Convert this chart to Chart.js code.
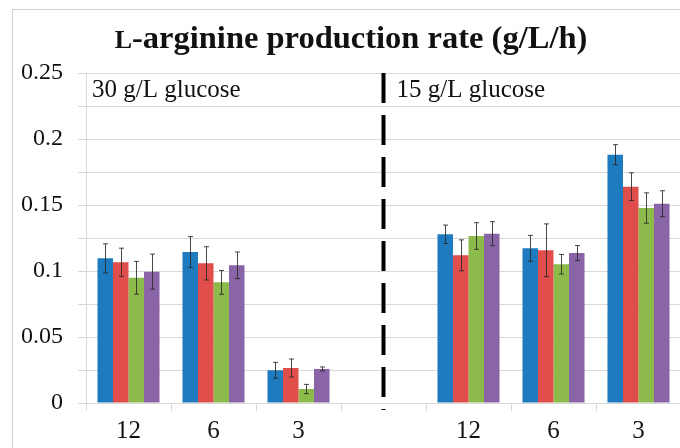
<!DOCTYPE html>
<html>
<head>
<meta charset="utf-8">
<script src="https://cdn.jsdelivr.net/npm/chart.js@4.4.1/dist/chart.umd.min.js"></script>
<style>
    html, body { margin: 0; padding: 0; background: #fff; overflow: hidden; width: 680px; height: 448px; }
    #frame { position: absolute; left: 12px; top: 9px; width: 700px; height: 470px; border-left: 1px solid #d0d0d0; border-top: 1px solid #d0d0d0; }
    #title { position: absolute; left: 0; top: 19px; width: 702px; text-align: center; font-family: "Liberation Serif", serif; font-weight: bold; font-size: 32.5px; color: #111; }
    #wrap { position: absolute; left: 0; top: 0; width: 690px; height: 460px; }
</style>
</head>
<body>
<div id="frame"></div>
<div id="wrap"><canvas id="c"></canvas></div>
<div id="title"><span style="font-size:0.8em">L</span>-arginine production rate (g/L/h)</div>
<script>
// data; index 3 is the spacer between the two glucose levels
const categories = ['12', '6', '3', '', '12', '6', '3'];
const seriesA = [0.1096, 0.1144, 0.0248, null, 0.1278, 0.1172, 0.1881];
const seriesB = [0.1066, 0.1058, 0.0265, null, 0.1119, 0.1157, 0.1639];
const seriesC = [0.0949, 0.0914, 0.0106, null, 0.1265, 0.1051, 0.1477];
const seriesD = [0.0995, 0.1043, 0.0258, null, 0.1283, 0.1136, 0.1510];
const errA = [0.0110, 0.0117, 0.0060, null, 0.0070, 0.0098, 0.0076];
const errB = [0.0107, 0.0126, 0.0068, null, 0.0117, 0.0200, 0.0105];
const errC = [0.0124, 0.0090, 0.0035, null, 0.0101, 0.0074, 0.0115];
const errD = [0.0133, 0.0101, 0.0015, null, 0.0091, 0.0057, 0.0098];
const groupLabels = ['30 g/L glucose', '15 g/L glucose'];

const colors = ['#1f7bbf', '#e04e4c', '#8cba4b', '#8964a7'];
const serif = '"Liberation Serif", "DejaVu Serif", serif';

const errorBars = {
    id: 'errorBars',
    afterDatasetsDraw(chart) {
        const ctx = chart.ctx, y = chart.scales.y;
        ctx.save();
        ctx.strokeStyle = 'rgba(40,40,40,.85)';
        ctx.lineWidth = 1;
        chart.data.datasets.forEach((ds, i) => {
            chart.getDatasetMeta(i).data.forEach((bar, j) => {
                const v = ds.data[j], e = ds.err[j];
                if (v == null || e == null) return;
                const x = Math.round(bar.x) + .5;
                const y1 = y.getPixelForValue(v + e), y2 = y.getPixelForValue(v - e);
                ctx.beginPath();
                ctx.moveTo(x, y1); ctx.lineTo(x, y2);
                ctx.moveTo(x - 2.5, y1); ctx.lineTo(x + 2.5, y1);
                ctx.moveTo(x - 2.5, y2); ctx.lineTo(x + 2.5, y2);
                ctx.stroke();
            });
        });
        ctx.restore();
    }
};

const divider = {
    id: 'divider',
    afterDraw(chart) {
        const ctx = chart.ctx, a = chart.chartArea;
        const x = chart.scales.x.getPixelForValue(3);
        ctx.save();
        ctx.strokeStyle = '#000';
        ctx.lineWidth = 4;
        ctx.setLineDash([30, 12]);
        ctx.beginPath();
        ctx.moveTo(x, a.top);
        ctx.lineTo(x, a.bottom + 7);
        ctx.stroke();
        ctx.setLineDash([]);
        ctx.fillStyle = '#111';
        ctx.font = '25px ' + serif;
        ctx.textBaseline = 'alphabetic';
        ctx.fillText(groupLabels[0], a.left + 6, a.top + 24);
        ctx.fillText(groupLabels[1], x + 13, a.top + 24);
        ctx.restore();
    }
};

new Chart(document.getElementById('c'), {
    type: 'bar',
    data: {
        labels: categories,
        datasets: [seriesA, seriesB, seriesC, seriesD].map((d, i) => ({
            data: d,
            err: [errA, errB, errC, errD][i],
            backgroundColor: colors[i],
            borderWidth: 0,
            categoryPercentage: 0.73,
            barPercentage: 1,
        }))
    },
    options: {
        responsive: true,
        maintainAspectRatio: false,
        animation: false,
        layout: { padding: { top: 73, right: 9, left: 0, bottom: 0 } },
        plugins: { legend: { display: false }, tooltip: { enabled: false } },
        scales: {
            x: {
                grid: { offset: true, drawOnChartArea: false, drawTicks: true, tickLength: 8, color: '#d9d9d9' },
                border: { color: '#d9d9d9' },
                ticks: { color: '#111', font: { family: serif, size: 25 }, padding: 5, maxRotation: 0 },
                afterFit: s => { s.height = 57; }
            },
            y: {
                min: 0, max: 0.25,
                grid: { color: '#d9d9d9', tickLength: 8 },
                border: { color: '#d9d9d9' },
                ticks: {
                    stepSize: 0.025,
                    color: '#111',
                    padding: 15,
                    font: { family: serif, size: 24 },
                    callback: v => Math.abs(Math.round(v / 0.05) * 0.05 - v) < 1e-9 ? String(+v.toFixed(2)) : ''
                },
                afterFit: s => { s.width = 86; }
            }
        }
    },
    plugins: [errorBars, divider]
});
</script>
</body>
</html>
